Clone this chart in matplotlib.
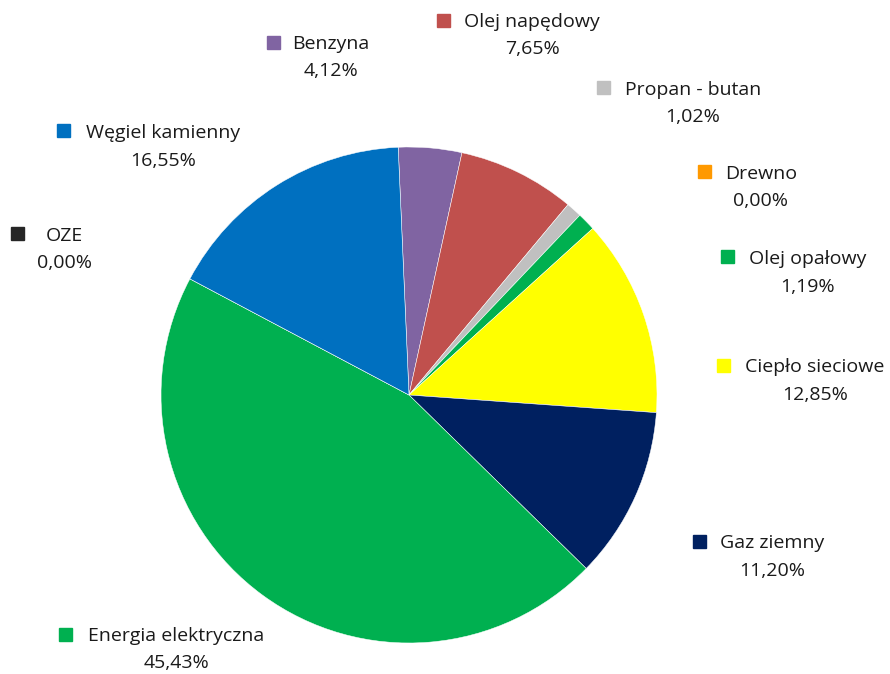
import matplotlib.pyplot as plt
from matplotlib.patches import Rectangle

# data, clockwise starting at Benzyna
categories = ['Benzyna', 'Olej napędowy', 'Propan - butan', 'Drewno', 'Olej opałowy',
              'Ciepło sieciowe', 'Gaz ziemny', 'Energia elektryczna', 'OZE', 'Węgiel kamienny']
shares = [4.12, 7.65, 1.02, 0.00, 1.19, 12.85, 11.20, 45.43, 0.00, 16.55]
colors = ['#8064A2', '#C0504D', '#C0C0C0', '#FF9900', '#00B050',
          '#FFFF00', '#002060', '#00B050', '#262626', '#0070C0']

# label layout in pixels: marker left/top, name text centre x, name centre y
label_pos = {
    'Benzyna': (267, 36, 331, 44),
    'Olej napędowy': (437, 14, 532, 22),
    'Propan - butan': (597, 81, 693, 90),
    'Drewno': (698, 165, 761, 174),
    'Olej opałowy': (721, 250, 808, 259),
    'Ciepło sieciowe': (717, 359, 815, 367),
    'Gaz ziemny': (693, 535, 772, 543),
    'Energia elektryczna': (59, 628, 176, 636),
    'OZE': (11, 227, 64, 236),
    'Węgiel kamienny': (57, 124, 163, 133),
}

W, H = 890, 674
plt.rcParams['font.family'] = ['Open Sans', 'DejaVu Sans']
fig = plt.figure(figsize=(W / 100, H / 100), dpi=100)

cx, cy, r = 409, 395, 248
ax = fig.add_axes([(cx - r) / W, (H - cy - r) / H, 2 * r / W, 2 * r / H])
ax.pie(shares, colors=colors, startangle=92.5, counterclock=False, radius=1,
       wedgeprops=dict(edgecolor='white', linewidth=0.35))
ax.set_xlim(-1, 1)
ax.set_ylim(-1, 1)
ax.set_aspect('auto')
ax.axis('off')

txt = '#1a1a1a'
fs = 14
for name, val, col in zip(categories, shares, colors):
    mx, my, tx, ty = label_pos[name]
    fig.patches.append(Rectangle((mx / W, (H - my - 13) / H), 13 / W, 13 / H,
                                 transform=fig.transFigure, color=col))
    fig.text(tx / W, (H - ty) / H, name, ha='center', va='center', fontsize=fs, color=txt)
    pct = f'{val:.2f}%'.replace('.', ',')
    fig.text(tx / W, (H - ty - 27.5) / H, pct, ha='center', va='center', fontsize=fs, color=txt)

fig.savefig('out.png', dpi=100)
